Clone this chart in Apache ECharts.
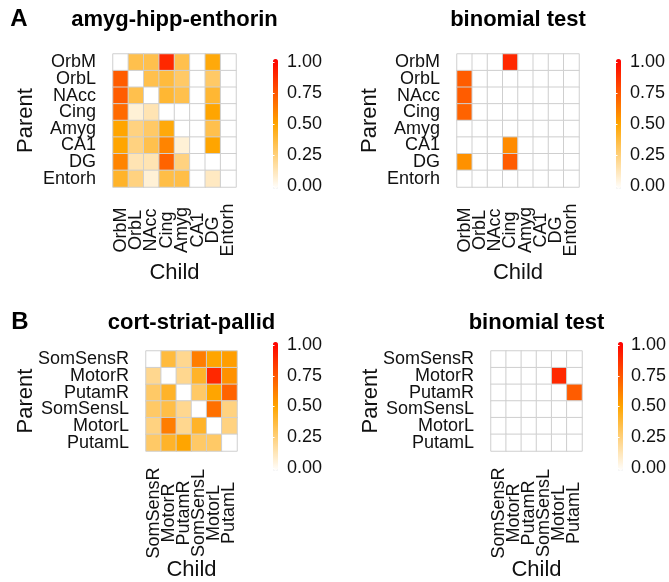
<!DOCTYPE html>
<html><head><meta charset="utf-8">
<script src="https://cdn.jsdelivr.net/npm/echarts/dist/echarts.min.js"></script>
<style>html,body{margin:0;padding:0;background:#fff}#c{width:669px;height:582px}</style>
</head><body><div id="c"></div>
<script>
// ---------- data ----------
const regionsA = ['OrbM','OrbL','NAcc','Cing','Amyg','CA1','DG','Entorh'];
const regionsB = ['SomSensR','MotorR','PutamR','SomSensL','MotorL','PutamL'];
const colorbarTicks = [0, 0.25, 0.5, 0.75, 1];

// rows = Parent, columns = Child
const amygParent = [
  [0.00, 0.35, 0.35, 0.88, 0.35, 0.00, 0.48, 0.00],
  [0.72, 0.00, 0.35, 0.38, 0.30, 0.00, 0.30, 0.00],
  [0.72, 0.35, 0.00, 0.40, 0.35, 0.00, 0.40, 0.00],
  [0.68, 0.08, 0.15, 0.00, 0.00, 0.00, 0.50, 0.00],
  [0.50, 0.25, 0.30, 0.48, 0.00, 0.00, 0.35, 0.00],
  [0.50, 0.25, 0.35, 0.60, 0.08, 0.00, 0.50, 0.00],
  [0.60, 0.15, 0.15, 0.70, 0.25, 0.00, 0.00, 0.00],
  [0.42, 0.25, 0.08, 0.36, 0.36, 0.00, 0.12, 0.00]
];
const amygBinom = [
  [0.00, 0.00, 0.00, 0.88, 0.00, 0.00, 0.00, 0.00],
  [0.72, 0.00, 0.00, 0.00, 0.00, 0.00, 0.00, 0.00],
  [0.72, 0.00, 0.00, 0.00, 0.00, 0.00, 0.00, 0.00],
  [0.70, 0.00, 0.00, 0.00, 0.00, 0.00, 0.00, 0.00],
  [0.00, 0.00, 0.00, 0.00, 0.00, 0.00, 0.00, 0.00],
  [0.00, 0.00, 0.00, 0.58, 0.00, 0.00, 0.00, 0.00],
  [0.56, 0.00, 0.00, 0.72, 0.00, 0.00, 0.00, 0.00],
  [0.00, 0.00, 0.00, 0.00, 0.00, 0.00, 0.00, 0.00]
];
const cortParent = [
  [0.00, 0.38, 0.22, 0.62, 0.50, 0.52],
  [0.22, 0.00, 0.22, 0.42, 0.88, 0.56],
  [0.30, 0.42, 0.00, 0.30, 0.50, 0.70],
  [0.30, 0.36, 0.22, 0.00, 0.66, 0.25],
  [0.25, 0.62, 0.22, 0.42, 0.00, 0.25],
  [0.30, 0.42, 0.50, 0.30, 0.30, 0.00]
];
const cortBinom = [
  [0.00, 0.00, 0.00, 0.00, 0.00, 0.00],
  [0.00, 0.00, 0.00, 0.00, 0.88, 0.00],
  [0.00, 0.00, 0.00, 0.00, 0.00, 0.72],
  [0.00, 0.00, 0.00, 0.00, 0.00, 0.00],
  [0.00, 0.00, 0.00, 0.00, 0.00, 0.00],
  [0.00, 0.00, 0.00, 0.00, 0.00, 0.00]
];

// ---------- layout ----------
const FONT = '"Liberation Sans", Arial, Helvetica, sans-serif';
const panels = [
  {labels: regionsA, vals: amygParent, title: 'amyg-hipp-enthorin',
   grid: {left: 113, top: 54, width: 123, height: 133}, bar: {x: 273, top: 62, h: 124}, xlabMargin: 43, childY: 273, parentX: 26},
  {labels: regionsA, vals: amygBinom, title: 'binomial test',
   grid: {left: 457, top: 54, width: 122, height: 133}, bar: {x: 616, top: 62, h: 124}, xlabMargin: 43, childY: 273, parentX: 370},
  {labels: regionsB, vals: cortParent, title: 'cort-striat-pallid',
   grid: {left: 146, top: 351, width: 91, height: 100}, bar: {x: 273, top: 345, h: 123}, xlabMargin: 62, childY: 570, parentX: 26},
  {labels: regionsB, vals: cortBinom, title: 'binomial test',
   grid: {left: 491, top: 351, width: 91, height: 100}, bar: {x: 618, top: 345, h: 123}, xlabMargin: 62, childY: 570, parentX: 371}
];
const scaleColors = ['#FFFFFF', '#FFA500', '#FF0000'];

const grid = [], xAxis = [], yAxis = [], series = [], visualMap = [], graphic = [];
panels.forEach((p, i) => {
  const g = grid.length;
  grid.push(Object.assign({containLabel: false}, p.grid));
  xAxis.push({type: 'category', gridIndex: g, data: p.labels,
    axisLine: {show: false}, axisTick: {show: false}, splitLine: {show: false},
    axisLabel: {rotate: 90, align: 'center', verticalAlign: 'middle', margin: p.xlabMargin,
      fontSize: 18, color: '#111', fontFamily: FONT, interval: 0}});
  yAxis.push({type: 'category', gridIndex: g, data: p.labels, inverse: true,
    axisLine: {show: false}, axisTick: {show: false}, splitLine: {show: false},
    axisLabel: {margin: 17, fontSize: 18, color: '#111', fontFamily: FONT, interval: 0}});
  const data = [];
  p.vals.forEach((row, r) => row.forEach((v, c) => data.push([c, r, v])));
  const sIdx = series.length;
  series.push({type: 'heatmap', xAxisIndex: xAxis.length - 1, yAxisIndex: yAxis.length - 1, data,
    itemStyle: {borderColor: '#CFCFCF', borderWidth: 1}, emphasis: {disabled: true}, silent: true});
  visualMap.push({type: 'continuous', seriesIndex: sIdx, min: 0, max: 1, dimension: 2,
    inRange: {color: scaleColors}, left: p.bar.x, top: p.bar.top - 3, itemWidth: 5, itemHeight: p.bar.h + 6,
    padding: 0, calculable: false, hoverLink: false, text: null, orient: 'vertical'});
  // colorbar label axis
  const cg = grid.length;
  grid.push({left: p.bar.x, top: p.bar.top, width: 5, height: p.bar.h});
  xAxis.push({type: 'value', gridIndex: cg, show: false, min: 0, max: 1});
  yAxis.push({type: 'value', gridIndex: cg, min: 0, max: 1, interval: 0.25, position: 'right', z: 10,
    axisLine: {show: false}, splitLine: {show: false},
    axisTick: {show: true, inside: true, length: 1.5, lineStyle: {color: '#fff', width: 1}},
    axisLabel: {margin: 9, fontSize: 18, color: '#111', fontFamily: FONT,
      formatter: v => colorbarTicks.indexOf(v) >= 0 ? v.toFixed(2) : ''}});
  yAxis.push({type: 'value', gridIndex: cg, min: 0, max: 1, interval: 0.25, position: 'left', z: 10,
    axisLine: {show: false}, splitLine: {show: false}, axisLabel: {show: false},
    axisTick: {show: true, inside: true, length: 1.5, lineStyle: {color: '#fff', width: 1}}});
  // titles
  const cx = p.grid.left + p.grid.width / 2;
  const cy = p.grid.top + p.grid.height / 2;
  const titleY = i < 2 ? 20 : 323;
  graphic.push({type: 'text', x: cx, y: titleY, style: {text: p.title, font: 'bold 22px ' + FONT, fill: '#000', align: 'center', verticalAlign: 'middle'}});
  graphic.push({type: 'text', x: cx, y: p.childY, style: {text: 'Child', font: '22px ' + FONT, fill: '#111', align: 'center', verticalAlign: 'middle'}});
  graphic.push({type: 'text', x: p.parentX, y: cy, rotation: Math.PI / 2, style: {text: 'Parent', font: '22px ' + FONT, fill: '#111', align: 'center', verticalAlign: 'middle'}});
});
graphic.push({type: 'text', x: 19, y: 19, style: {text: 'A', font: 'bold 24px ' + FONT, fill: '#000', align: 'center', verticalAlign: 'middle'}});
graphic.push({type: 'text', x: 20, y: 322, style: {text: 'B', font: 'bold 24px ' + FONT, fill: '#000', align: 'center', verticalAlign: 'middle'}});

const chart = echarts.init(document.getElementById('c'), null, {renderer: 'canvas'});
chart.setOption({backgroundColor: '#fff', animation: false, textStyle: {fontFamily: FONT},
  grid, xAxis, yAxis, series, visualMap, graphic});
</script></body></html>
